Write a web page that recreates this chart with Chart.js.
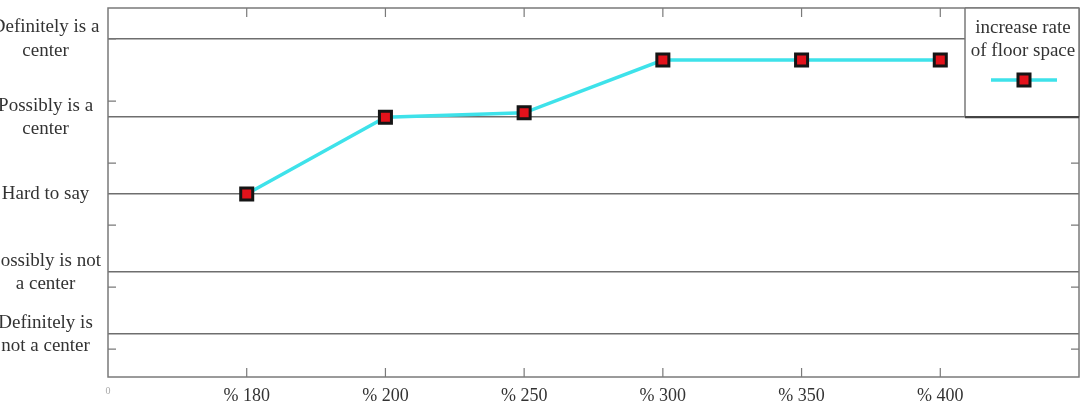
<!DOCTYPE html>
<html>
<head>
<meta charset="utf-8">
<script src="https://cdn.jsdelivr.net/npm/chart.js@4.4.0/dist/chart.umd.min.js"></script>
<style>
  html, body { margin: 0; padding: 0; background: #fff; }
  #wrap { width: 1086px; height: 417px; }
</style>
</head>
<body>
<div id="wrap"><canvas id="chart"></canvas></div>
<script>
// x axis categories
const categories = ['% 180', '% 200', '% 250', '% 300', '% 350', '% 400'];
// answer level, one per category
const floorSpaceRate = [3.0, 4.24, 4.31, 5.16, 5.16, 5.16];
// y levels that carry a grid line and a label
const levelValues = [0.74, 1.74, 3.0, 4.24, 5.5];
const levelLabels = [
  ['Definitely is', 'not a center'],
  ['Possibly is not', 'a center'],
  'Hard to say',
  ['Possibly is a', 'center'],
  ['Definitely is a', 'center']
];
// short tick marks on the left / right axis lines
const minorTicks = [0.5, 1.5, 2.5, 3.5, 4.5, 5.5];
const seriesName = ['increase rate', 'of floor space'];

const SERIF = "'Liberation Serif', 'DejaVu Serif', serif";
const frameColor = '#7a7a7a';

// frame round the plot + inward tick marks
const framePlugin = {
  id: 'frame',
  beforeDatasetsDraw(chart) {
    const { ctx, chartArea: a, scales } = chart;
    ctx.save();
    ctx.strokeStyle = frameColor;
    ctx.lineWidth = 1.5;
    ctx.strokeRect(a.left, a.top, a.right - a.left, a.bottom - a.top);
    ctx.lineWidth = 1.2;
    ctx.beginPath();
    categories.forEach((c, i) => {
      const x = scales.x.getPixelForValue(i + 1);
      ctx.moveTo(x, a.bottom); ctx.lineTo(x, a.bottom - 9);
      ctx.moveTo(x, a.top);    ctx.lineTo(x, a.top + 9);
    });
    minorTicks.forEach(v => {
      const y = scales.y.getPixelForValue(v);
      ctx.moveTo(a.left, y);  ctx.lineTo(a.left + 8, y);
      ctx.moveTo(a.right, y); ctx.lineTo(a.right - 8, y);
    });
    ctx.stroke();
    ctx.restore();
  }
};

// boxed legend in the top right corner
const legendBoxPlugin = {
  id: 'legendBox',
  afterDraw(chart) {
    const { ctx, chartArea: a, scales } = chart;
    const ds = chart.data.datasets[0];
    const left = a.right - 114;
    const top = a.top;
    const bottom = scales.y.getPixelForValue(levelValues[3]);
    const cx = (left + a.right) / 2;
    ctx.save();
    ctx.fillStyle = '#fff';
    ctx.fillRect(left, top, a.right - left, bottom - top);
    ctx.strokeStyle = frameColor;
    ctx.lineWidth = 1.5;
    ctx.beginPath();
    ctx.moveTo(left, top); ctx.lineTo(left, bottom);
    ctx.moveTo(a.right, top); ctx.lineTo(a.right, bottom);
    ctx.moveTo(left, top); ctx.lineTo(a.right, top);
    ctx.stroke();
    ctx.strokeStyle = '#444';
    ctx.lineWidth = 2.2;
    ctx.beginPath();
    ctx.moveTo(left, bottom); ctx.lineTo(a.right, bottom);
    ctx.stroke();

    ctx.fillStyle = '#333';
    ctx.font = '19px ' + SERIF;
    ctx.textAlign = 'center';
    ctx.textBaseline = 'middle';
    ctx.fillText(seriesName[0], cx + 1, top + 20);
    ctx.fillText(seriesName[1], cx + 1, top + 43);

    const ly = top + 72;
    ctx.strokeStyle = ds.borderColor;
    ctx.lineWidth = ds.borderWidth;
    ctx.beginPath();
    ctx.moveTo(cx - 31, ly); ctx.lineTo(cx + 35, ly);
    ctx.stroke();
    ctx.fillStyle = ds.pointBackgroundColor;
    ctx.strokeStyle = ds.pointBorderColor;
    ctx.lineWidth = ds.pointBorderWidth;
    ctx.beginPath();
    const s = ds.pointRadius * Math.SQRT1_2;
    ctx.rect(cx + 2 - s, ly - s, 2 * s, 2 * s);
    ctx.fill();
    ctx.stroke();
    ctx.restore();
  }
};

const ctx = document.getElementById('chart').getContext('2d');
new Chart(ctx, {
  type: 'line',
  data: {
    datasets: [{
      label: seriesName.join(' '),
      data: categories.map((c, i) => ({ x: i + 1, y: floorSpaceRate[i] })),
      borderColor: '#3ee2ea',
      borderWidth: 3.5,
      tension: 0,
      pointStyle: 'rect',
      pointRadius: 8.5,
      pointHoverRadius: 8.5,
      pointBackgroundColor: '#e3121b',
      pointBorderColor: '#151515',
      pointBorderWidth: 3
    }]
  },
  options: {
    responsive: true,
    maintainAspectRatio: false,
    animation: false,
    layout: { autoPadding: false, padding: { left: 0, top: 8, right: 7, bottom: 0 } },
    plugins: {
      legend: { display: false },
      tooltip: { enabled: false }
    },
    scales: {
      x: {
        type: 'linear',
        min: 0,
        max: 7,
        afterBuildTicks: scale => {
          scale.ticks = [0, ...categories.map((c, i) => i + 1)].map(v => ({ value: v }));
        },
        afterFit: scale => {
          scale.height = 40;
          scale.paddingLeft = 0;
          scale.paddingRight = 0;
        },
        grid: { display: false },
        border: { display: false },
        ticks: {
          autoSkip: false,
          maxRotation: 0,
          padding: 0,
          color: c => (c.tick && c.tick.value === 0 ? '#aaa' : '#333'),
          font: c => (c.tick && c.tick.value === 0
            ? { family: SERIF, size: 10 }
            : { family: SERIF, size: 18 }),
          callback: v => (v === 0 ? '0' : categories[v - 1])
        }
      },
      y: {
        type: 'linear',
        min: 0.05,
        max: 6,
        afterBuildTicks: scale => {
          scale.ticks = levelValues.map(v => ({ value: v }));
        },
        afterFit: scale => {
          scale.width = 108;
          scale.paddingTop = 0;
          scale.paddingBottom = 0;
        },
        grid: { color: '#6e6e6e', lineWidth: 1.5, drawTicks: false },
        border: { display: false },
        ticks: {
          crossAlign: 'center',
          padding: 7,
          color: '#333',
          font: { family: SERIF, size: 19, lineHeight: 1.22 },
          callback: (v, i) => levelLabels[i]
        }
      }
    }
  },
  plugins: [framePlugin, legendBoxPlugin]
});
</script>
</body>
</html>
